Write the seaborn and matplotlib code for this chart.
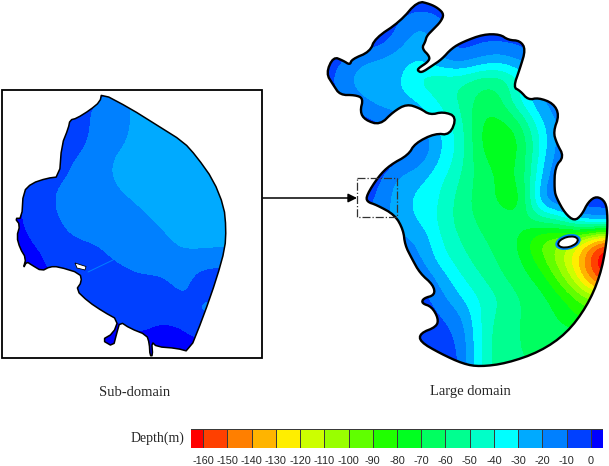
import numpy as np
import seaborn as sns
import matplotlib.pyplot as plt
from matplotlib.colors import BoundaryNorm, ListedColormap
from matplotlib.patches import Polygon, Ellipse, Rectangle

# colour classes, one per 10 m of depth
level_edges = list(range(-170, 20, 10))
level_colors = ['#ff0000', '#ff4000', '#ff7f00', '#ffb400', '#ffee00', '#ccff00',
                '#99ff00', '#60ff00', '#20ff00', '#00ff20', '#00ff60', '#00ff90',
                '#00ffc8', '#00ffff', '#00aaff', '#0080ff', '#0040ff', '#0000ff']
bar_ticks = [str(v) for v in range(-160, 10, 10)]

large_x = list(range(320, 620, 20))
large_y = list(range(0, 400, 20))
depth_large = [
    [-2, -2, -2, -2, -2, -2, -2, -2, -2, -2, -2, -2, -2, -2, -2],
    [-2, -2, -2, -2, -10, -18, -12, -2, -2, -2, -2, -2, -2, -2, -2],
    [-2, -2, -2, -3, -15, -28, -15, -4, -8, -8, -6, -3, -2, -2, -2],
    [-2, -8, -18, -22, -27, -30, -18, -12, -20, -25, -18, -10, -3, -2, -2],
    [-3, -15, -27, -28, -28, -45, -50, -48, -58, -58, -42, -25, -4, -2, -2],
    [-2, -8, -18, -25, -28, -30, -42, -52, -65, -65, -35, -20, -12, -2, -2],
    [-2, -2, -5, -12, -15, -25, -35, -45, -72, -72, -62, -30, -18, -8, -2],
    [-2, -2, -2, -2, -5, -8, -28, -42, -72, -82, -72, -40, -15, -2, -2],
    [-2, -2, -2, -2, -8, -15, -30, -45, -68, -74, -72, -35, -12, -2, -2],
    [-2, -2, -2, -8, -25, -28, -38, -50, -65, -72, -72, -30, -5, -2, -2],
    [-2, -2, -5, -12, -28, -32, -40, -55, -65, -72, -82, -18, -5, -2, -8],
    [-2, -2, -8, -15, -25, -32, -42, -55, -62, -65, -65, -55, -50, -22, -10],
    [-2, -2, -2, -8, -18, -20, -40, -50, -60, -62, -72, -95, -100, -115, -150],
    [-2, -2, -2, -3, -12, -18, -35, -45, -55, -62, -68, -85, -108, -135, -175],
    [-2, -2, -2, -2, -2, -8, -22, -38, -48, -58, -65, -72, -92, -122, -160],
    [-2, -2, -2, -2, -2, -5, -15, -28, -40, -50, -60, -65, -75, -90, -100],
    [-2, -2, -2, -2, -2, -2, -8, -15, -40, -55, -60, -65, -70, -80, -85],
    [-2, -2, -2, -2, -2, -2, -5, -10, -40, -58, -60, -62, -65, -60, -60],
    [-2, -2, -2, -2, -2, -2, -2, -8, -40, -58, -60, -60, -60, -60, -60],
    [-2, -2, -2, -2, -2, -2, -2, -8, -40, -58, -60, -60, -60, -60, -60],
]

# depth
sub_x = list(range(0, 280, 20))
sub_y = list(range(90, 370, 20))
depth_sub = [
    [-5, -5, -5, -5, -5, -5, -15, -25, -25, -25, -25, -25, -25, -25],
    [-5, -5, -5, -5, -5, -15, -15, -25, -25, -25, -25, -25, -25, -25],
    [-5, -5, -5, -5, -5, -15, -15, -25, -25, -25, -25, -25, -25, -25],
    [-5, -5, -5, -5, -9, -15, -20, -25, -25, -25, -25, -25, -25, -25],
    [-5, -5, -5, -5, -15, -15, -25, -25, -25, -25, -25, -25, -25, -25],
    [2, 2, -5, -12, -15, -15, -20, -25, -25, -25, -25, -25, -25, -25],
    [1, 1, -5, -12, -15, -15, -15, -19, -25, -25, -25, -25, -25, -25],
    [2, 2, -5, -8, -15, -15, -15, -15, -19, -25, -25, -25, -25, -25],
    [5, 4, 0, -5, -5, -9, -15, -15, -15, -20, -21, -20, -20, -20],
    [5, 5, 3, -5, -5, -5, -8, -12, -12, -14, -8, -7, -7, -7],
    [5, 5, 5, 5, -5, -5, -5, -5, -5, -12, -7, -7, -7, -7],
    [5, 5, 5, 5, 5, -5, -5, -5, -5, -7, -12, -14, -14, -14],
    [5, 5, 5, 5, 5, 5, 3, -2, 3, 2, -5, -5, -5, -5],
    [5, 5, 5, 5, 5, 5, 5, 5, 5, 5, 5, 5, 5, 5],
]

coast_large = [
    (417.7, 1), (430, 4), (438.3, 8.3), (444, 14.3), (440.7, 21.7), (433.3, 29.3), (426.7, 36),
    (425.3, 41.7), (421.7, 48.3), (430, 56.7), (428.3, 61.7), (418.3, 68.3), (417.7, 70.7),
    (421.7, 72.7), (431.7, 66), (441.7, 59.3), (451.7, 48.3), (463.3, 41.7), (483.3, 34.3),
    (500, 34.3), (508.3, 40), (520, 40.7), (525.7, 49.3), (520, 68.3), (513.3, 87.3), (520, 90.7),
    (528.3, 100), (538.3, 97.7), (553.3, 103.3), (559.3, 115), (553.3, 131.7), (556.7, 143.3),
    (564, 156.7), (555, 166.7), (554.3, 190), (556.7, 198.3), (565, 213.3), (574.3, 221),
    (581.7, 215), (588.3, 201.7), (596.7, 196), (605.7, 201.7), (607.7, 216.7), (606.7, 243.3),
    (600, 276.7), (586.7, 306.7), (566.7, 333.3), (540, 351.7), (506.7, 363.3), (480, 366.7),
    (463.3, 364), (440, 353.3), (420, 341.7), (420, 333.3), (436.7, 326.7), (438.3, 318.3),
    (431.7, 306.7), (421.7, 303.3), (423.3, 298.3), (435, 295), (433.3, 285), (420, 273.3),
    (411.7, 258.3), (405, 245), (403.3, 230), (395, 215), (376.7, 205), (366.7, 201.7),
    (366.7, 195), (378.3, 176.7), (390, 165), (408.3, 155), (415, 143.3), (435, 133.3), (450, 135),
    (456.7, 116.7), (443.3, 111.7), (430, 115), (420, 108.3), (406.7, 104), (393.3, 111.7),
    (380, 125), (365, 120), (360, 111.7), (363.3, 98.3), (355, 95), (340, 95), (333.3, 85),
    (326, 73.3), (333.3, 56.7), (343.3, 60.7), (350, 65), (351.7, 59.3), (370, 51.7), (375, 38.3),
    (400, 21.7),
]

coast_sub = [
    (101.7, 93.3), (130, 108.3), (156.7, 125), (183.3, 141.7), (196.7, 156.7), (213.3, 180),
    (224, 206.7), (226, 228.3), (225, 248.3), (216.7, 278.3), (203.3, 316.7), (189.3, 351.7),
    (176.7, 348.3), (156.7, 346.7), (151.7, 341.7), (152.7, 355.7), (150, 355.7), (149.3, 343.3),
    (146.7, 335), (130, 328.3), (120, 321.7), (116.7, 333.3), (113.3, 346.7), (101.7, 340),
    (113.3, 333.3), (118.3, 320), (103.3, 311.7), (88.3, 301.7), (76, 290), (81.7, 281.7),
    (80, 273.3), (58.3, 266.7), (50, 266.7), (41.7, 271), (31.7, 265), (26.7, 261.7),
    (23.3, 268.3), (26, 258.3), (20, 248.3), (16.7, 236.7), (20, 225), (15, 218.3), (21.7, 218.3),
    (23.3, 191.7), (31.7, 183.3), (46.7, 178.3), (59.3, 176.7), (61.7, 145), (68.3, 128.3),
    (70, 120), (76.7, 118.3), (90, 110), (100, 101.7),
]
sub_islet = [(75, 263), (86, 266.5), (85, 270), (77, 268)]

depth_cmap = ListedColormap(level_colors)
depth_norm = BoundaryNorm(level_edges, depth_cmap.N)


def round_corners(points, passes):
    # corner cutting so the coast does not look like straight segments
    pts = np.array(points)
    for _ in range(passes):
        nxt = np.roll(pts, -1, axis=0)
        pts = np.column_stack([0.75 * pts + 0.25 * nxt, 0.25 * pts + 0.75 * nxt]).reshape(-1, 2)
    return pts


def draw_domain(ax, xs, ys, depth, coast, lw):
    half = (xs[1] - xs[0]) / 2
    im = ax.imshow(np.array(depth, dtype=float), cmap=depth_cmap, norm=depth_norm, aspect='auto',
                   extent=(xs[0] - half, xs[-1] + half, ys[-1] + half, ys[0] - half),
                   interpolation='bicubic', interpolation_stage='data')
    im.set_clip_path(Polygon(coast, closed=True, transform=ax.transData))
    ax.add_patch(Polygon(coast, closed=True, fill=False, ec='black', lw=lw, joinstyle='round'))


sns.set_style('white')
plt.rcParams['font.family'] = ['Liberation Serif', 'DejaVu Serif']

fig = plt.figure(figsize=(6.09, 4.66), dpi=100)
ax = fig.add_axes([0, 0, 1, 1])

draw_domain(ax, large_x, large_y, depth_large, round_corners(coast_large, 2), 1.7)
ax.add_patch(Ellipse((568, 242), 26, 15, angle=-15, fc='#0080ff', ec='none'))
ax.add_patch(Ellipse((568, 242), 20, 10, angle=-15, fc='white', ec='black', lw=1.4))

draw_domain(ax, sub_x, sub_y, depth_sub, round_corners(coast_sub, 1), 1.1)
ax.add_patch(Polygon(sub_islet, closed=True, fc='white', ec='black', lw=0.6))
ax.plot([88, 113], [272, 260], color='#0080ff', lw=0.7)

ax.add_patch(Rectangle((2, 90), 260, 268, fill=False, ec='black', lw=1.3))
ax.add_patch(Rectangle((357, 178), 40, 39, fill=False, ec='#333333', lw=0.9, ls='-.'))
ax.annotate('', xy=(357, 198), xytext=(263, 198),
            arrowprops=dict(arrowstyle='-|>', color='black', lw=1.1, mutation_scale=13, shrinkA=0, shrinkB=0))

ax.text(135, 392, 'Sub-domain', ha='center', va='center', fontsize=10.5)
ax.text(470, 392, 'Large domain', ha='center', va='center', fontsize=10.5)
ax.text(184, 438, 'Depth(m)', ha='right', va='center', fontsize=10)

ax.set_xlim(0, 609)
ax.set_ylim(466, 0)
ax.axis('off')

# colour bar, end classes cut to half a cell
cax = fig.add_axes([191 / 609, 1 - 448 / 466, 412 / 609, 19 / 466])
centers = [[e + 5 for e in level_edges[:-1]]]
sns.heatmap(centers, ax=cax, cmap=level_colors, vmin=-170, vmax=10, cbar=False,
            linewidths=0.6, linecolor='#3a3a3a', xticklabels=False, yticklabels=False)
cax.set_xlim(0.5, 17.5)
cax.set_xticks(range(1, 18))
cax.set_xticklabels(bar_ticks, rotation=0, family=['Liberation Sans', 'DejaVu Sans'], fontsize=7.8)
cax.tick_params(axis='x', length=0, pad=6)
cax.set_yticks([])

fig.savefig('out.png', dpi=100)
